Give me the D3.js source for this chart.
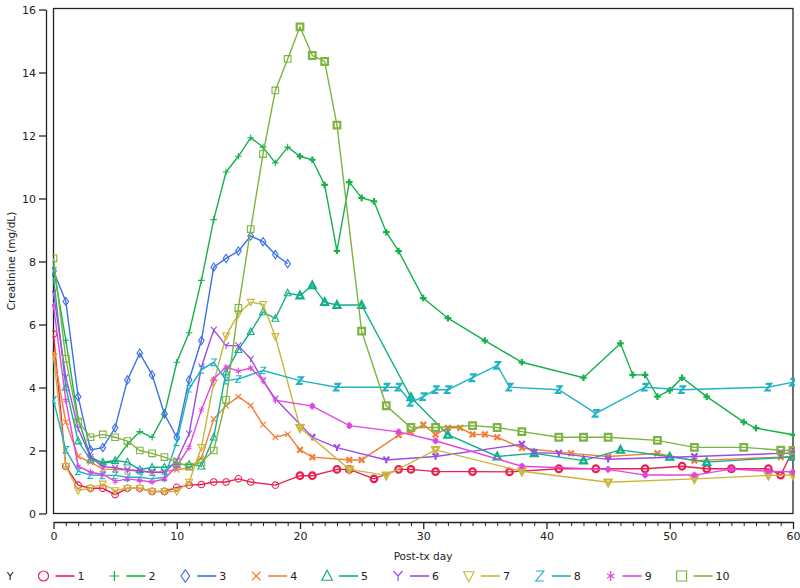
<!DOCTYPE html>
<html><head><meta charset="utf-8">
<script src="https://cdn.jsdelivr.net/npm/d3@7"></script>
<style>
body{margin:0;background:#fff}
text{font-family:"DejaVu Sans",sans-serif;fill:#222}
</style>
</head><body>
<svg id="c" width="800" height="588"></svg>
<script>
// ---------- data ----------
const seriesNames = ["1","2","3","4","5","6","7","8","9","10"];
const xTicks = [0,10,20,30,40,50,60];
const yTicks = [0,2,4,6,8,10,12,14,16];

const s1Days = [0,1,2,3,4,5,6,7,8,9,10,11,12,13,14,15,16,18,20,21,23,24,26,28,29,31,34,37,41,44,48,51,53,55,58,59,60];
const s1Vals = [5.7,1.5,0.9,0.8,0.8,0.6,0.8,0.8,0.7,0.7,0.83,0.9,0.92,1.0,1.0,1.1,1.0,0.9,1.2,1.2,1.4,1.4,1.1,1.4,1.4,1.33,1.33,1.32,1.42,1.42,1.42,1.5,1.42,1.42,1.42,1.22,2.0];

const s2Days = [0,1,2,3,4,5,6,7,8,9,10,11,12,13,14,15,16,17,18,19,20,21,22,23,24,25,26,27,28,30,32,35,38,43,46,47,48,49,50,51,53,56,57,60];
const s2Vals = [7.8,5.5,3.0,1.8,1.6,1.65,2.2,2.6,2.42,3.15,4.8,5.74,7.4,9.33,10.84,11.34,11.93,11.63,11.13,11.63,11.34,11.23,10.43,8.34,10.52,10.02,9.91,8.93,8.33,6.84,6.2,5.49,4.8,4.31,5.4,4.4,4.4,3.71,3.91,4.31,3.71,2.9,2.71,2.5];

const s3Days = [0,1,2,3,4,5,6,7,8,9,10,11,12,13,14,15,16,17,18,19];
const s3Vals = [7.7,6.73,3.71,2.02,2.09,2.72,4.24,5.09,4.4,3.16,2.42,4.24,5.49,7.82,8.1,8.33,8.81,8.63,8.22,7.93];

const s4Days = [0,1,2,3,4,5,6,7,8,9,10,11,12,13,14,15,16,17,18,19,20,21,24,25,28,29,30,31,32,33,34,35,36,38,42,45,49,52,59,60];
const s4Vals = [5.1,2.9,1.81,1.63,1.41,1.4,1.38,1.35,1.31,1.33,1.39,1.45,1.75,3.0,3.42,3.71,3.43,2.82,2.42,2.52,2.02,1.79,1.7,1.7,2.49,2.59,2.82,2.51,2.72,2.72,2.51,2.51,2.42,2.08,1.91,1.81,1.91,1.68,1.79,1.8];

const s5Days = [0,1,2,3,4,5,6,7,8,9,10,11,12,13,14,15,16,17,18,19,20,21,22,23,25,29,32,36,39,43,46,50,53,60];
const s5Vals = [7.5,4.0,2.3,1.7,1.63,1.68,1.63,1.39,1.47,1.47,1.56,1.56,1.5,2.42,4.49,5.2,5.77,6.4,6.19,7.0,6.92,7.24,6.71,6.62,6.62,3.69,2.5,1.81,1.91,1.68,2.02,1.8,1.63,1.8];

const s6Days = [0,1,2,3,4,5,6,7,8,9,10,11,12,13,14,15,16,17,18,21,23,27,31,38,39,41,45,52,59,60];
const s6Vals = [7.0,4.33,2.7,1.79,1.49,1.45,1.39,1.35,1.31,1.3,1.68,2.53,4.65,5.83,5.33,5.33,4.91,4.22,3.64,2.42,2.09,1.7,1.81,2.2,1.93,1.91,1.72,1.81,1.91,1.92];

const s7Days = [0,1,2,3,4,5,6,7,8,9,10,11,12,13,14,15,16,17,18,20,24,27,31,38,45,52,58,60];
const s7Vals = [5.0,1.5,0.73,0.8,0.94,0.73,0.8,0.8,0.7,0.7,0.7,1.0,2.1,4.15,5.64,6.34,6.71,6.64,5.62,2.72,1.4,1.21,2.02,1.34,0.99,1.1,1.21,1.22];

const s8Days = [0,1,2,3,4,5,6,7,8,9,10,11,12,13,14,15,17,20,23,27,28,29,30,31,32,34,36,37,41,44,48,51,58,60];
const s8Vals = [3.6,2.02,1.34,1.22,1.21,1.21,1.15,1.15,1.1,1.15,2.26,3.96,4.56,4.8,4.22,4.27,4.54,4.22,4.01,4.01,4.01,3.53,3.71,3.93,3.93,4.31,4.7,4.01,3.93,3.18,4.01,3.93,4.01,4.17];

const s9Days = [0,1,2,3,4,5,6,7,8,9,10,11,12,13,14,15,16,17,18,21,24,28,31,38,45,48,52,55,58,60];
const s9Vals = [6.6,3.59,1.5,1.31,1.24,1.02,1.1,1.05,1.0,1.1,1.5,2.1,3.29,4.27,4.65,4.52,4.62,4.22,3.6,3.41,2.79,2.59,2.31,1.5,1.4,1.22,1.22,1.41,1.34,1.32];

const s10Days = [0,1,2,3,4,5,6,7,8,9,10,11,12,13,14,15,16,17,18,19,20,21,22,23,25,27,29,31,34,36,38,41,43,45,49,52,56,59,60];
const s10Vals = [8.1,4.91,2.92,2.42,2.51,2.42,2.3,2.0,1.91,1.79,1.63,1.49,1.63,2.0,3.61,6.53,9.03,11.41,13.43,14.43,15.45,14.54,14.35,12.33,5.79,3.42,2.73,2.73,2.79,2.73,2.6,2.42,2.42,2.42,2.32,2.1,2.1,2.01,2.0];

const allDays = [s1Days,s2Days,s3Days,s4Days,s5Days,s6Days,s7Days,s8Days,s9Days,s10Days];
const allVals = [s1Vals,s2Vals,s3Vals,s4Vals,s5Vals,s6Vals,s7Vals,s8Vals,s9Vals,s10Vals];

// ---------- styles ----------
const colors = ["#EC1E4E","#17B04B","#3D6FE6","#F07F3A","#12AF88","#9A4CE8","#C9B73A","#1FB3C4","#E145E0","#7DB340"];
const symbols = ["circle","plus","diamond","x","triangle","y","itriangle","z","star","square"];
const boldFrom = 20;

function symPath(t, r){
  switch(t){
    case "circle": return `M${r},0A${r},${r} 0 1,1 ${-r},0A${r},${r} 0 1,1 ${r},0Z`;
    case "plus": return `M${-r},0H${r}M0,${-r}V${r}`;
    case "diamond": return `M0,${-r*1.25}L${r*0.85},0L0,${r*1.25}L${-r*0.85},0Z`;
    case "x": {const a=r*0.85; return `M${-a},${-a}L${a},${a}M${-a},${a}L${a},${-a}`;}
    case "triangle": return `M0,${-r*1.15}L${r*1.05},${r*0.85}L${-r*1.05},${r*0.85}Z`;
    case "y": return `M${-r*0.9},${-r}L0,0L${r*0.9},${-r}M0,0V${r}`;
    case "itriangle": return `M${-r*1.05},${-r*0.85}L${r*1.05},${-r*0.85}L0,${r*1.15}Z`;
    case "z": return `M${-r*0.8},${-r}H${r*0.8}L${-r*0.8},${r}H${r*0.8}`;
    case "star": {const a=r*0.75; return `M0,${-r}V${r}M${-a},${-a*0.6}L${a},${a*0.6}M${-a},${a*0.6}L${a},${-a*0.6}`;}
    case "square": return `M${-r},${-r}H${r}V${r}H${-r}Z`;
  }
}

// ---------- chart ----------
const svg = d3.select("#c");
const x = d3.scaleLinear().domain([0,60]).range([53.5,793]);
const y = d3.scaleLinear().domain([0,16]).range([513.5,9.5]);

svg.append("defs").append("clipPath").attr("id","clip")
  .append("rect").attr("x",52).attr("y",7).attr("width",743).attr("height",508);

// frame
svg.append("rect").attr("x",53.5).attr("y",8.5).attr("width",739.5).attr("height",505)
  .attr("fill","none").attr("stroke","#222").attr("stroke-width",1.3);

// y axis
const yAxis = svg.append("g").attr("transform","translate(46,0)")
  .call(d3.axisLeft(y).tickValues(yTicks).tickSize(7).tickSizeOuter(0).tickPadding(3));
yAxis.selectAll("text").attr("font-size",11).attr("font-family","DejaVu Sans");
yAxis.selectAll("line,path").attr("stroke","#222").attr("stroke-width",1.3);

// x axis
const xAxis = svg.append("g").attr("transform","translate(0,522)")
  .call(d3.axisBottom(x).tickValues(xTicks).tickSize(7).tickSizeOuter(0).tickPadding(3));
xAxis.selectAll("text").attr("font-size",11).attr("font-family","DejaVu Sans");
xAxis.selectAll("line,path").attr("stroke","#222").attr("stroke-width",1.3);
const minor = svg.append("g").attr("transform","translate(0,522)")
  .call(d3.axisBottom(x).tickValues(d3.range(0,61).filter(d=>d%10)).tickSize(4).tickSizeOuter(0).tickFormat(""));
minor.select("path").remove();
minor.selectAll("line").attr("stroke","#222").attr("stroke-width",1);

// axis labels
svg.append("text").attr("x",423).attr("y",560).attr("text-anchor","middle")
  .attr("font-size",10.5).text("Post-tx day");
svg.append("text").attr("transform","translate(14.5,261) rotate(-90)")
  .attr("text-anchor","middle").attr("font-size",10.5).text("Creatinine (mg/dL)");

// series
const plot = svg.append("g").attr("clip-path","url(#clip)");
const line = d3.line().x(d=>x(d[0])).y(d=>y(d[1]));
allDays.forEach((days,i)=>{
  const pts = days.map((d,j)=>[d, allVals[i][j]]);
  const g = plot.append("g");
  g.append("path").attr("d",line(pts)).attr("fill","none")
    .attr("stroke",colors[i]).attr("stroke-width",1.4);
  g.selectAll("path.m").data(pts).join("path").attr("class","m")
    .attr("transform",d=>`translate(${x(d[0])},${y(d[1])})`)
    .attr("d",symPath(symbols[i],3.3))
    .attr("fill","none")
    .attr("stroke",colors[i])
    .attr("stroke-width",d=>d[0]>=boldFrom?2.2:1.1);
});

// legend
const leg = svg.append("g");
leg.append("text").attr("x",10).attr("y",580).attr("text-anchor","middle").attr("font-size",11).text("Y");
seriesNames.forEach((nm,i)=>{
  const mx = 43.5 + 70.9*i, my = 576;
  leg.append("path").attr("transform",`translate(${mx},${my})`)
    .attr("d",symPath(symbols[i],5)).attr("fill","none").attr("stroke",colors[i]).attr("stroke-width",1.2);
  leg.append("line").attr("x1",mx+12).attr("x2",mx+31).attr("y1",my).attr("y2",my)
    .attr("stroke",colors[i]).attr("stroke-width",1.6);
  leg.append("text").attr("x",mx+34).attr("y",my+4).attr("font-size",11).text(nm);
});
</script>
</body></html>
